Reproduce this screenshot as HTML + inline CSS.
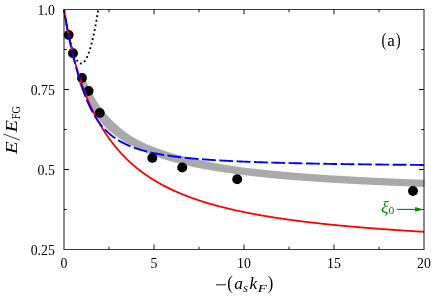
<!DOCTYPE html>
<html><head><meta charset="utf-8"><title>plot</title>
<style>
html,body{margin:0;padding:0;background:#fff;}
body{width:436px;height:298px;overflow:hidden;font-family:"Liberation Serif",serif;}
svg{display:block;will-change:transform;opacity:0.999;}
</style></head><body>
<svg width="436" height="298" viewBox="0 0 436 298">
<rect width="436" height="298" fill="#fff"/>
<defs><clipPath id="c"><rect x="60" y="9.2" width="364.5" height="240.3"/></clipPath></defs>
<g clip-path="url(#c)">
<path d="M85.47,79.26 L86.05,80.65 L86.63,82.00 L87.20,83.32 L87.77,84.61 L88.35,85.86 L88.92,87.09 L89.50,88.29 L90.07,89.46 L90.64,90.60 L91.21,91.72 L91.78,92.82 L92.36,93.89 L92.93,94.94 L93.50,95.96 L94.07,96.97 L94.64,97.95 L95.21,98.91 L95.78,99.85 L96.35,100.78 L96.92,101.68 L97.49,102.57 L98.06,103.43 L98.62,104.28 L99.19,105.12 L99.76,105.94 L100.33,106.74 L100.90,107.53 L101.47,108.30 L102.03,109.06 L102.60,109.80 L103.17,110.53 L103.73,111.25 L104.30,111.95 L104.87,112.64 L105.43,113.32 L106.00,113.99 L106.56,114.65 L107.13,115.29 L107.69,115.93 L108.26,116.55 L108.83,117.16 L109.39,117.76 L109.96,118.35 L110.52,118.93 L111.09,119.50 L111.65,120.07 L112.22,120.62 L112.78,121.17 L113.34,121.71 L113.89,122.25 L114.44,122.78 L115.00,123.31 L115.55,123.83 L116.10,124.34 L116.66,124.84 L117.21,125.33 L117.76,125.82 L118.32,126.30 L118.87,126.78 L119.42,127.25 L119.98,127.71 L120.53,128.16 L121.08,128.61 L121.64,129.06 L122.19,129.51 L122.73,129.95 L123.28,130.38 L123.83,130.81 L124.38,131.24 L124.93,131.65 L125.48,132.07 L126.03,132.48 L126.58,132.88 L127.13,133.28 L127.68,133.68 L128.23,134.07 L128.78,134.45 L129.33,134.83 L129.89,135.21 L130.44,135.58 L130.99,135.95 L131.56,136.29 L132.12,136.63 L132.69,136.97 L133.25,137.30 L133.82,137.63 L134.38,137.95 L134.95,138.27 L135.51,138.59 L136.08,138.90 L136.64,139.21 L137.21,139.52 L137.78,139.82 L138.34,140.12 L138.91,140.41 L139.47,140.71 L140.04,140.99 L140.61,141.28 L141.17,141.56 L141.74,141.84 L142.31,142.11 L142.88,142.38 L143.45,142.64 L144.02,142.90 L144.59,143.16 L145.16,143.42 L145.73,143.67 L146.30,143.92 L146.87,144.17 L147.44,144.41 L148.01,144.65 L148.58,144.89 L149.15,145.13 L149.72,145.36 L150.29,145.60 L150.86,145.82 L151.43,146.05 L152.00,146.28 L152.58,146.50 L153.15,146.72 L153.72,146.94 L154.29,147.15 L154.86,147.36 L155.43,147.58 L156.00,147.78 L156.57,147.99 L157.14,148.21 L157.71,148.42 L158.28,148.63 L158.84,148.84 L159.41,149.05 L159.98,149.25 L160.55,149.46 L161.12,149.66 L161.68,149.86 L162.25,150.06 L162.82,150.26 L163.39,150.45 L163.96,150.64 L164.53,150.83 L165.10,151.02 L165.67,151.21 L166.24,151.40 L166.80,151.58 L167.37,151.77 L167.94,151.95 L168.51,152.13 L169.08,152.30 L169.65,152.48 L170.22,152.66 L170.79,152.83 L171.36,153.00 L171.93,153.17 L172.51,153.34 L173.08,153.51 L173.65,153.68 L174.22,153.84 L174.79,154.01 L175.36,154.17 L175.93,154.33 L176.50,154.49 L177.07,154.65 L177.64,154.81 L178.22,154.96 L178.79,155.12 L179.36,155.27 L179.93,155.42 L180.50,155.57 L181.07,155.72 L181.65,155.87 L182.22,156.02 L182.79,156.16 L183.36,156.31 L183.94,156.45 L184.51,156.60 L185.08,156.74 L185.65,156.88 L186.23,157.02 L186.80,157.16 L187.37,157.30 L187.94,157.43 L188.52,157.57 L189.09,157.70 L189.66,157.84 L190.24,157.97 L190.81,158.10 L191.38,158.23 L191.96,158.36 L192.53,158.49 L193.10,158.62 L193.68,158.74 L194.25,158.87 L194.82,158.99 L195.40,159.12 L195.97,159.24 L196.54,159.37 L197.12,159.50 L197.69,159.62 L198.26,159.75 L198.84,159.87 L199.41,160.00 L199.98,160.12 L200.55,160.24 L201.13,160.36 L201.70,160.48 L202.27,160.60 L202.85,160.72 L203.42,160.84 L204.00,160.96 L204.57,161.07 L205.14,161.19 L205.72,161.30 L206.29,161.42 L206.86,161.53 L207.44,161.64 L208.01,161.76 L208.59,161.87 L209.16,161.98 L209.73,162.09 L210.31,162.20 L210.88,162.31 L211.46,162.41 L212.03,162.52 L212.61,162.63 L213.18,162.73 L213.76,162.84 L214.33,162.94 L214.90,163.05 L215.48,163.15 L216.05,163.25 L216.63,163.36 L217.20,163.46 L217.78,163.56 L218.35,163.66 L218.93,163.76 L219.50,163.86 L220.08,163.96 L220.65,164.05 L221.23,164.15 L221.81,164.25 L222.38,164.35 L222.96,164.44 L223.53,164.54 L224.11,164.63 L224.68,164.72 L225.26,164.82 L225.83,164.91 L226.41,165.00 L226.98,165.10 L227.56,165.19 L228.14,165.28 L228.71,165.37 L229.29,165.46 L229.86,165.55 L230.44,165.64 L231.02,165.73 L231.59,165.81 L232.17,165.90 L232.74,165.99 L233.32,166.07 L233.90,166.16 L234.47,166.25 L235.05,166.33 L235.62,166.42 L236.20,166.50 L236.78,166.58 L237.35,166.67 L237.93,166.75 L238.51,166.83 L239.08,166.91 L239.66,167.00 L240.24,167.08 L240.81,167.15 L241.39,167.23 L241.97,167.30 L242.54,167.38 L243.12,167.45 L243.70,167.52 L244.28,167.60 L244.85,167.67 L245.43,167.74 L246.01,167.81 L246.59,167.89 L247.16,167.96 L247.74,168.03 L248.32,168.10 L248.90,168.17 L249.47,168.24 L250.05,168.31 L250.63,168.37 L251.21,168.44 L251.78,168.51 L252.36,168.58 L252.94,168.64 L253.52,168.71 L254.09,168.78 L254.67,168.84 L255.25,168.91 L255.83,168.98 L256.40,169.04 L256.98,169.11 L257.56,169.17 L258.14,169.23 L258.72,169.30 L259.29,169.36 L259.87,169.42 L260.45,169.49 L261.03,169.55 L261.60,169.61 L262.18,169.67 L262.76,169.74 L263.34,169.80 L263.92,169.86 L264.49,169.92 L265.07,169.98 L265.65,170.04 L266.23,170.10 L266.81,170.16 L267.38,170.22 L267.96,170.28 L268.54,170.33 L269.12,170.39 L269.70,170.45 L270.28,170.51 L270.85,170.56 L271.43,170.62 L272.01,170.68 L272.59,170.74 L273.17,170.79 L273.74,170.85 L274.32,170.90 L274.90,170.96 L275.48,171.01 L276.06,171.07 L276.64,171.12 L277.21,171.18 L277.79,171.23 L278.37,171.29 L278.95,171.34 L279.53,171.39 L280.10,171.45 L280.68,171.50 L281.26,171.55 L281.84,171.60 L282.42,171.66 L283.00,171.71 L283.58,171.76 L284.15,171.81 L284.73,171.86 L285.31,171.91 L285.89,171.96 L286.47,172.01 L287.05,172.06 L287.62,172.11 L288.20,172.16 L288.78,172.21 L289.36,172.26 L289.94,172.31 L290.52,172.36 L291.10,172.41 L291.67,172.46 L292.25,172.51 L292.83,172.55 L293.41,172.60 L293.99,172.65 L294.57,172.70 L295.15,172.74 L295.72,172.79 L296.30,172.84 L296.88,172.88 L297.46,172.93 L298.04,172.98 L298.62,173.02 L299.20,173.07 L299.77,173.11 L300.35,173.16 L300.93,173.20 L301.51,173.25 L302.09,173.29 L302.67,173.34 L303.25,173.38 L303.83,173.43 L304.40,173.47 L304.98,173.52 L305.56,173.56 L306.14,173.60 L306.72,173.65 L307.30,173.69 L307.88,173.73 L308.46,173.77 L309.03,173.82 L309.61,173.86 L310.19,173.90 L310.77,173.94 L311.35,173.99 L311.93,174.03 L312.51,174.07 L313.09,174.11 L313.66,174.15 L314.24,174.19 L314.82,174.23 L315.40,174.27 L315.98,174.31 L316.56,174.35 L317.14,174.39 L317.72,174.43 L318.30,174.47 L318.87,174.51 L319.45,174.55 L320.03,174.59 L320.61,174.63 L321.19,174.67 L321.77,174.71 L322.35,174.75 L322.93,174.79 L323.51,174.82 L324.09,174.86 L324.66,174.90 L325.24,174.94 L325.82,174.98 L326.40,175.01 L326.98,175.05 L327.56,175.09 L328.14,175.13 L328.72,175.16 L329.30,175.20 L329.88,175.24 L330.45,175.27 L331.03,175.31 L331.61,175.35 L332.19,175.38 L332.77,175.42 L333.35,175.45 L333.93,175.49 L334.51,175.53 L335.09,175.56 L335.67,175.60 L336.24,175.63 L336.82,175.67 L337.40,175.70 L337.98,175.74 L338.56,175.77 L339.14,175.81 L339.72,175.84 L340.30,175.87 L340.88,175.91 L341.46,175.94 L342.04,175.98 L342.62,176.01 L343.19,176.04 L343.77,176.08 L344.35,176.11 L344.93,176.14 L345.51,176.18 L346.09,176.21 L346.67,176.24 L347.25,176.28 L347.83,176.31 L348.41,176.34 L348.99,176.37 L349.57,176.41 L350.14,176.44 L350.72,176.47 L351.30,176.50 L351.88,176.53 L352.46,176.57 L353.04,176.60 L353.62,176.63 L354.20,176.66 L354.78,176.69 L355.36,176.72 L355.94,176.75 L356.52,176.78 L357.10,176.82 L357.67,176.85 L358.25,176.88 L358.83,176.91 L359.41,176.94 L359.99,176.97 L360.57,177.00 L361.15,177.03 L361.73,177.06 L362.31,177.09 L362.89,177.12 L363.47,177.15 L364.05,177.18 L364.63,177.21 L365.20,177.24 L365.78,177.26 L366.36,177.29 L366.94,177.32 L367.52,177.35 L368.10,177.38 L368.68,177.41 L369.26,177.44 L369.84,177.47 L370.42,177.50 L371.00,177.52 L371.58,177.55 L372.16,177.58 L372.74,177.61 L373.32,177.64 L373.89,177.66 L374.47,177.69 L375.05,177.72 L375.63,177.75 L376.21,177.77 L376.79,177.80 L377.37,177.83 L377.95,177.86 L378.53,177.88 L379.11,177.91 L379.69,177.94 L380.27,177.96 L380.85,177.99 L381.43,178.02 L382.01,178.04 L382.59,178.07 L383.16,178.10 L383.74,178.12 L384.32,178.15 L384.90,178.18 L385.48,178.20 L386.06,178.23 L386.64,178.25 L387.22,178.28 L387.80,178.31 L388.38,178.33 L388.96,178.36 L389.54,178.38 L390.12,178.41 L390.70,178.43 L391.28,178.46 L391.86,178.48 L392.44,178.51 L393.02,178.53 L393.59,178.56 L394.17,178.58 L394.75,178.61 L395.33,178.63 L395.91,178.66 L396.49,178.68 L397.07,178.71 L397.65,178.73 L398.23,178.75 L398.81,178.78 L399.39,178.80 L399.97,178.83 L400.55,178.85 L401.13,178.87 L401.71,178.90 L402.29,178.92 L402.87,178.95 L403.45,178.97 L404.03,178.99 L404.60,179.02 L405.18,179.04 L405.76,179.06 L406.34,179.09 L406.92,179.11 L407.50,179.13 L408.08,179.16 L408.66,179.18 L409.24,179.20 L409.82,179.22 L410.40,179.25 L410.98,179.27 L411.56,179.29 L412.14,179.32 L412.72,179.34 L413.30,179.36 L413.88,179.38 L414.46,179.41 L415.04,179.43 L415.62,179.45 L416.19,179.47 L416.77,179.49 L417.35,179.52 L417.93,179.54 L418.51,179.56 L419.09,179.58 L419.67,179.60 L420.25,179.62 L420.83,179.65 L421.41,179.67 L421.99,179.69 L422.57,179.71 L423.15,179.73 L423.73,179.75 L424.31,179.77 L424.89,179.79 L425.47,179.82 L426.05,179.84 L426.63,179.86 L427.21,179.88 L427.79,179.90 L428.37,179.92 L428.95,179.94 L429.53,179.96 L429.27,187.15 L428.69,187.13 L428.11,187.11 L427.53,187.09 L426.95,187.07 L426.37,187.05 L425.79,187.03 L425.21,187.01 L424.63,186.99 L424.05,186.97 L423.47,186.95 L422.89,186.93 L422.31,186.91 L421.73,186.89 L421.15,186.87 L420.57,186.85 L419.99,186.83 L419.41,186.81 L418.83,186.78 L418.25,186.76 L417.67,186.74 L417.09,186.72 L416.51,186.70 L415.93,186.68 L415.35,186.66 L414.77,186.64 L414.19,186.62 L413.60,186.59 L413.02,186.57 L412.44,186.55 L411.86,186.53 L411.28,186.51 L410.70,186.49 L410.12,186.46 L409.54,186.44 L408.96,186.42 L408.38,186.40 L407.80,186.38 L407.22,186.35 L406.64,186.33 L406.06,186.31 L405.48,186.29 L404.90,186.27 L404.32,186.24 L403.74,186.22 L403.16,186.20 L402.58,186.18 L402.00,186.15 L401.42,186.13 L400.84,186.11 L400.26,186.08 L399.67,186.06 L399.09,186.04 L398.51,186.01 L397.93,185.99 L397.35,185.97 L396.77,185.94 L396.19,185.92 L395.61,185.90 L395.03,185.87 L394.45,185.85 L393.87,185.83 L393.29,185.80 L392.71,185.78 L392.13,185.75 L391.55,185.73 L390.97,185.70 L390.39,185.68 L389.81,185.66 L389.23,185.63 L388.65,185.61 L388.07,185.58 L387.48,185.56 L386.90,185.53 L386.32,185.51 L385.74,185.48 L385.16,185.46 L384.58,185.43 L384.00,185.41 L383.42,185.38 L382.84,185.36 L382.26,185.33 L381.68,185.31 L381.10,185.28 L380.52,185.25 L379.94,185.23 L379.36,185.20 L378.78,185.18 L378.20,185.15 L377.62,185.12 L377.03,185.10 L376.45,185.07 L375.87,185.04 L375.29,185.02 L374.71,184.99 L374.13,184.96 L373.55,184.94 L372.97,184.91 L372.39,184.88 L371.81,184.86 L371.23,184.83 L370.65,184.80 L370.07,184.77 L369.49,184.75 L368.91,184.72 L368.33,184.69 L367.75,184.66 L367.16,184.64 L366.58,184.61 L366.00,184.58 L365.42,184.55 L364.84,184.52 L364.26,184.49 L363.68,184.47 L363.10,184.44 L362.52,184.41 L361.94,184.38 L361.36,184.35 L360.78,184.32 L360.20,184.29 L359.62,184.26 L359.04,184.23 L358.46,184.20 L357.87,184.17 L357.29,184.14 L356.71,184.11 L356.13,184.08 L355.55,184.05 L354.97,184.02 L354.39,183.99 L353.81,183.96 L353.23,183.93 L352.65,183.90 L352.07,183.87 L351.49,183.84 L350.91,183.81 L350.33,183.78 L349.74,183.75 L349.16,183.72 L348.58,183.68 L348.00,183.65 L347.42,183.62 L346.84,183.59 L346.26,183.56 L345.68,183.53 L345.10,183.49 L344.52,183.46 L343.94,183.43 L343.36,183.40 L342.78,183.36 L342.19,183.33 L341.61,183.30 L341.03,183.27 L340.45,183.23 L339.87,183.20 L339.29,183.17 L338.71,183.13 L338.13,183.10 L337.55,183.06 L336.97,183.03 L336.39,183.00 L335.81,182.96 L335.23,182.93 L334.64,182.89 L334.06,182.86 L333.48,182.82 L332.90,182.79 L332.32,182.75 L331.74,182.72 L331.16,182.68 L330.58,182.65 L330.00,182.61 L329.42,182.58 L328.84,182.54 L328.25,182.50 L327.67,182.47 L327.09,182.43 L326.51,182.40 L325.93,182.36 L325.35,182.32 L324.77,182.28 L324.19,182.25 L323.61,182.21 L323.03,182.17 L322.45,182.14 L321.86,182.10 L321.28,182.06 L320.70,182.02 L320.12,181.98 L319.54,181.95 L318.96,181.91 L318.38,181.87 L317.80,181.83 L317.22,181.79 L316.64,181.75 L316.05,181.71 L315.47,181.67 L314.89,181.63 L314.31,181.59 L313.73,181.55 L313.15,181.51 L312.57,181.47 L311.99,181.43 L311.41,181.39 L310.82,181.35 L310.24,181.31 L309.66,181.27 L309.08,181.23 L308.50,181.19 L307.92,181.14 L307.34,181.10 L306.76,181.06 L306.18,181.02 L305.59,180.97 L305.01,180.93 L304.43,180.89 L303.85,180.85 L303.27,180.80 L302.69,180.76 L302.11,180.72 L301.53,180.67 L300.94,180.63 L300.36,180.58 L299.78,180.54 L299.20,180.50 L298.62,180.45 L298.04,180.41 L297.46,180.36 L296.88,180.31 L296.29,180.27 L295.71,180.22 L295.13,180.18 L294.55,180.13 L293.97,180.08 L293.39,180.04 L292.81,179.99 L292.22,179.94 L291.64,179.90 L291.06,179.85 L290.48,179.80 L289.90,179.75 L289.32,179.71 L288.74,179.66 L288.16,179.61 L287.57,179.56 L286.99,179.51 L286.41,179.46 L285.83,179.41 L285.25,179.36 L284.67,179.31 L284.08,179.26 L283.50,179.21 L282.92,179.16 L282.34,179.11 L281.76,179.06 L281.18,179.01 L280.60,178.96 L280.01,178.90 L279.43,178.85 L278.85,178.80 L278.27,178.75 L277.69,178.69 L277.11,178.64 L276.52,178.59 L275.94,178.53 L275.36,178.48 L274.78,178.42 L274.20,178.37 L273.62,178.31 L273.03,178.26 L272.45,178.20 L271.87,178.15 L271.29,178.09 L270.71,178.04 L270.13,177.98 L269.54,177.92 L268.96,177.87 L268.38,177.81 L267.80,177.75 L267.22,177.69 L266.63,177.63 L266.05,177.58 L265.47,177.52 L264.89,177.46 L264.31,177.40 L263.72,177.34 L263.14,177.28 L262.56,177.22 L261.98,177.16 L261.40,177.10 L260.81,177.04 L260.23,176.97 L259.65,176.91 L259.07,176.85 L258.49,176.79 L257.90,176.72 L257.32,176.66 L256.74,176.60 L256.16,176.53 L255.58,176.47 L254.99,176.40 L254.41,176.34 L253.83,176.27 L253.25,176.21 L252.66,176.14 L252.08,176.08 L251.50,176.01 L250.92,175.94 L250.34,175.87 L249.75,175.81 L249.17,175.74 L248.59,175.67 L248.01,175.60 L247.42,175.53 L246.84,175.46 L246.26,175.39 L245.68,175.32 L245.09,175.25 L244.51,175.18 L243.93,175.11 L243.35,175.03 L242.76,174.96 L242.18,174.89 L241.60,174.81 L241.02,174.74 L240.43,174.67 L239.85,174.59 L239.27,174.52 L238.68,174.44 L238.10,174.37 L237.52,174.29 L236.93,174.22 L236.35,174.14 L235.77,174.07 L235.19,173.99 L234.60,173.91 L234.02,173.83 L233.44,173.76 L232.85,173.68 L232.27,173.60 L231.69,173.52 L231.10,173.44 L230.52,173.36 L229.94,173.28 L229.35,173.19 L228.77,173.11 L228.19,173.03 L227.60,172.95 L227.02,172.86 L226.44,172.78 L225.85,172.69 L225.27,172.61 L224.68,172.52 L224.10,172.44 L223.52,172.35 L222.93,172.26 L222.35,172.17 L221.77,172.08 L221.18,171.99 L220.60,171.91 L220.01,171.81 L219.43,171.72 L218.85,171.63 L218.26,171.54 L217.68,171.45 L217.09,171.35 L216.51,171.26 L215.93,171.17 L215.34,171.07 L214.76,170.97 L214.17,170.88 L213.59,170.78 L213.00,170.68 L212.42,170.58 L211.84,170.48 L211.25,170.38 L210.67,170.28 L210.08,170.18 L209.50,170.08 L208.91,169.98 L208.33,169.88 L207.74,169.77 L207.16,169.67 L206.57,169.56 L205.99,169.45 L205.40,169.35 L204.82,169.24 L204.23,169.13 L203.65,169.02 L203.06,168.91 L202.48,168.80 L201.89,168.69 L201.31,168.58 L200.72,168.46 L200.14,168.35 L199.55,168.23 L198.96,168.12 L198.38,168.00 L197.79,167.88 L197.21,167.77 L196.62,167.65 L196.04,167.53 L195.45,167.41 L194.86,167.28 L194.28,167.16 L193.69,167.04 L193.11,166.91 L192.52,166.79 L191.93,166.66 L191.35,166.53 L190.76,166.40 L190.17,166.27 L189.59,166.14 L189.00,166.01 L188.41,165.88 L187.83,165.74 L187.24,165.61 L186.65,165.47 L186.07,165.34 L185.48,165.20 L184.89,165.06 L184.31,164.92 L183.72,164.78 L183.13,164.63 L182.54,164.49 L181.96,164.34 L181.37,164.20 L180.78,164.05 L180.19,163.90 L179.61,163.75 L179.02,163.60 L178.43,163.45 L177.84,163.30 L177.25,163.14 L176.67,162.98 L176.08,162.83 L175.49,162.67 L174.90,162.51 L174.31,162.35 L173.72,162.18 L173.14,162.02 L172.55,161.85 L171.96,161.69 L171.37,161.52 L170.78,161.35 L170.19,161.18 L169.60,161.00 L169.01,160.83 L168.42,160.65 L167.83,160.47 L167.24,160.29 L166.65,160.11 L166.06,159.93 L165.47,159.75 L164.88,159.56 L164.29,159.37 L163.70,159.18 L163.11,158.99 L162.52,158.80 L161.93,158.60 L161.34,158.40 L160.75,158.21 L160.16,158.01 L159.56,157.80 L158.97,157.60 L158.38,157.39 L157.79,157.18 L157.20,156.97 L156.61,156.76 L156.02,156.54 L155.43,156.32 L154.83,156.10 L154.24,155.88 L153.65,155.65 L153.06,155.43 L152.47,155.20 L151.87,154.96 L151.28,154.73 L150.69,154.49 L150.09,154.26 L149.50,154.01 L148.91,153.77 L148.32,153.52 L147.72,153.28 L147.13,153.02 L146.53,152.77 L145.94,152.51 L145.35,152.25 L144.75,151.99 L144.16,151.73 L143.56,151.46 L142.97,151.19 L142.38,150.91 L141.78,150.64 L141.19,150.36 L140.59,150.07 L139.99,149.79 L139.40,149.50 L138.80,149.20 L138.21,148.91 L137.60,148.63 L137.00,148.34 L136.39,148.05 L135.78,147.76 L135.18,147.47 L134.57,147.17 L133.96,146.87 L133.36,146.56 L132.75,146.25 L132.14,145.93 L131.53,145.61 L130.92,145.29 L130.31,144.96 L129.70,144.63 L129.09,144.30 L128.48,143.95 L127.87,143.61 L127.26,143.26 L126.65,142.90 L126.03,142.55 L125.42,142.19 L124.80,141.82 L124.18,141.45 L123.57,141.08 L122.95,140.69 L122.33,140.31 L121.72,139.91 L121.10,139.52 L120.48,139.11 L119.86,138.70 L119.24,138.29 L118.62,137.86 L118.00,137.43 L117.38,137.00 L116.76,136.56 L116.14,136.11 L115.51,135.66 L114.89,135.20 L114.26,134.74 L113.63,134.26 L113.01,133.79 L112.38,133.30 L111.75,132.80 L111.12,132.30 L110.49,131.79 L109.86,131.27 L109.23,130.74 L108.60,130.21 L107.97,129.66 L107.34,129.11 L106.71,128.54 L106.09,127.96 L105.51,127.32 L104.93,126.68 L104.35,126.03 L103.77,125.37 L103.19,124.70 L102.61,124.02 L102.04,123.32 L101.46,122.62 L100.89,121.91 L100.32,121.18 L99.75,120.44 L99.18,119.69 L98.61,118.93 L98.04,118.16 L97.47,117.37 L96.91,116.57 L96.34,115.76 L95.78,114.94 L95.21,114.10 L94.65,113.25 L94.09,112.38 L93.52,111.50 L92.96,110.61 L92.40,109.70 L91.84,108.77 L91.28,107.83 L90.72,106.87 L90.16,105.90 L89.61,104.90 L89.02,103.91 L88.43,102.90 L87.85,101.86 L87.26,100.81 L86.68,99.74 L86.09,98.64 L85.51,97.52 L84.92,96.38 L84.34,95.22 L83.76,94.03 L83.17,92.82 L82.59,91.58 L82.01,90.31 L81.43,89.01 L80.85,87.69 L80.26,86.34 L79.68,84.95 L79.10,83.54 L78.53,82.10Z" fill="#aaaaaa"/>
<path d="M64.00,9.50 L64.18,10.60 L64.35,11.70 L64.53,12.78 L64.71,13.84 L64.88,14.90 L65.06,15.95 L65.23,16.98 L65.41,18.01 L65.59,19.02 L65.76,20.02 L65.94,21.01 L66.12,21.99 L66.29,22.95 L66.47,23.91 L66.65,24.85 L66.82,25.79 L67.00,26.71 L67.17,27.62 L67.35,28.51 L67.53,29.40 L67.70,30.28 L67.88,31.14 L68.06,31.99 L68.23,32.83 L68.41,33.66 L68.59,34.48 L68.76,35.29 L68.94,36.08 L69.12,36.87 L69.29,37.64 L69.47,38.40 L69.64,39.15 L69.82,39.89 L70.00,40.62 L70.17,41.33 L70.35,42.04 L70.53,42.73 L70.70,43.41 L70.88,44.08 L71.06,44.74 L71.23,45.39 L71.41,46.02 L71.58,46.65 L71.76,47.26 L71.94,47.86 L72.11,48.45 L72.29,49.03 L72.47,49.60 L72.64,50.15 L72.82,50.70 L73.00,51.23 L73.17,51.75 L73.35,52.27 L73.52,52.76 L73.70,53.25 L73.88,53.73 L74.05,54.19 L74.23,54.65 L74.41,55.09 L74.58,55.52 L74.76,55.94 L74.94,56.35 L75.11,56.74 L75.29,57.13 L75.46,57.50 L75.64,57.86 L75.82,58.21 L75.99,58.55 L76.17,58.88 L76.35,59.20 L76.52,59.50 L76.70,59.80 L76.88,60.08 L77.05,60.35 L77.23,60.61 L77.41,60.86 L77.58,61.10 L77.76,61.32 L77.93,61.54 L78.11,61.74 L78.29,61.93 L78.46,62.11 L78.64,62.28 L78.82,62.43 L78.99,62.58 L79.17,62.71 L79.35,62.84 L79.52,62.95 L79.70,63.05 L79.87,63.14 L80.05,63.21 L80.23,63.28 L80.40,63.33 L80.58,63.38 L80.76,63.41 L80.93,63.43 L81.11,63.44 L81.29,63.44 L81.46,63.42 L81.64,63.40 L81.81,63.36 L81.99,63.31 L82.17,63.25 L82.34,63.18 L82.52,63.10 L82.70,63.00 L82.87,62.90 L83.05,62.78 L83.23,62.65 L83.40,62.51 L83.58,62.36 L83.75,62.20 L83.93,62.03 L84.11,61.84 L84.28,61.65 L84.46,61.44 L84.64,61.22 L84.81,60.99 L84.99,60.75 L85.17,60.49 L85.34,60.23 L85.52,59.95 L85.69,59.66 L85.87,59.37 L86.05,59.06 L86.22,58.73 L86.40,58.40 L86.58,58.06 L86.75,57.70 L86.93,57.33 L87.11,56.95 L87.28,56.56 L87.46,56.16 L87.64,55.75 L87.81,55.32 L87.99,54.89 L88.16,54.44 L88.34,53.98 L88.52,53.51 L88.69,53.03 L88.87,52.54 L89.05,52.03 L89.22,51.52 L89.40,50.99 L89.58,50.45 L89.75,49.90 L89.93,49.34 L90.10,48.77 L90.28,48.18 L90.46,47.59 L90.63,46.98 L90.81,46.36 L90.99,45.73 L91.16,45.09 L91.34,44.44 L91.52,43.78 L91.69,43.10 L91.87,42.41 L92.04,41.72 L92.22,41.01 L92.40,40.29 L92.57,39.55 L92.75,38.81 L92.93,38.05 L93.10,37.29 L93.28,36.51 L93.46,35.72 L93.63,34.92 L93.81,34.11 L93.98,33.28 L94.16,32.45 L94.34,31.60 L94.51,30.75 L94.69,29.88 L94.87,29.00 L95.04,28.10 L95.22,27.20 L95.40,26.29 L95.57,25.36 L95.75,24.42 L95.93,23.47 L96.10,22.51 L96.28,21.54 L96.45,20.56 L96.63,19.56 L96.81,18.56 L96.98,17.54 L97.16,16.51 L97.34,15.47 L97.51,14.42 L97.69,13.36 L97.87,12.28 L98.04,11.20 L98.22,10.10" fill="none" stroke="#000" stroke-width="1.9" stroke-dasharray="1.8 2.89" stroke-dashoffset="4.05"/>
<circle cx="68.7" cy="35.0" r="4.95" fill="#000"/>
<circle cx="73.0" cy="53.3" r="4.95" fill="#000"/>
<circle cx="82.0" cy="77.9" r="4.95" fill="#000"/>
<circle cx="88.6" cy="91.0" r="4.95" fill="#000"/>
<circle cx="99.8" cy="112.9" r="4.95" fill="#000"/>
<circle cx="152.3" cy="157.9" r="4.95" fill="#000"/>
<circle cx="182.2" cy="167.5" r="4.95" fill="#000"/>
<circle cx="237.2" cy="179.3" r="4.95" fill="#000"/>
<circle cx="413.0" cy="191.0" r="4.95" fill="#000"/>
<path d="M64.00,9.50 L64.27,11.19 L64.54,12.86 L64.81,14.50 L65.09,16.12 L65.36,17.71 L65.63,19.28 L65.90,20.82 L66.17,22.34 L66.44,23.84 L66.71,25.32 L66.98,26.78 L67.26,28.22 L67.53,29.63 L67.80,31.03 L68.07,32.41 L68.34,33.77 L68.61,35.11 L68.88,36.43 L69.16,37.74 L69.43,39.02 L69.70,40.30 L69.97,41.55 L70.24,42.79 L70.51,44.01 L70.78,45.22 L71.06,46.41 L71.33,47.59 L71.60,48.75 L71.87,49.90 L72.14,51.04 L72.41,52.16 L72.68,53.27 L72.95,54.36 L73.23,55.45 L73.50,56.52 L73.77,57.57 L74.04,58.62 L74.31,59.65 L74.58,60.67 L74.85,61.68 L75.13,62.68 L75.40,63.67 L75.67,64.65 L75.94,65.61 L76.21,66.57 L76.48,67.52 L76.75,68.45 L77.03,69.38 L77.30,70.30 L77.57,71.20 L77.84,72.10 L78.11,72.99 L78.38,73.87 L78.65,74.74 L78.92,75.60 L79.20,76.45 L79.47,77.30 L79.74,78.13 L80.01,78.96 L80.28,79.78 L80.55,80.60 L80.82,81.40 L81.10,82.20 L81.37,82.99 L81.64,83.77 L81.91,84.55 L82.18,85.31 L82.45,86.08 L82.72,86.83 L82.99,87.58 L83.27,88.32 L83.54,89.05 L83.81,89.78 L84.08,90.50 L84.35,91.22 L84.62,91.92 L84.89,92.63 L85.17,93.32 L85.44,94.02 L85.71,94.70 L85.98,95.38 L86.25,96.05 L86.52,96.72 L86.79,97.39 L87.07,98.04 L87.34,98.70 L87.61,99.34 L87.88,99.98 L88.15,100.62 L88.42,101.25 L88.69,101.88 L88.96,102.50 L89.24,103.12 L89.51,103.73 L89.78,104.34 L90.05,104.94 L90.32,105.54 L90.59,106.14 L90.86,106.73 L91.14,107.31 L91.41,107.89 L91.68,108.47 L91.95,109.04 L92.22,109.61 L92.49,110.18 L92.76,110.74 L93.04,111.29 L93.31,111.85 L93.58,112.39 L93.85,112.94 L94.12,113.48 L94.39,114.02 L94.66,114.55 L94.93,115.08 L95.21,115.61 L95.48,116.13 L95.75,116.65 L96.02,117.16 L96.29,117.67 L96.56,118.18 L96.83,118.69 L97.11,119.19 L97.38,119.69 L97.65,120.18 L97.92,120.67 L98.19,121.16 L98.46,121.65 L98.73,122.13 L99.01,122.61 L99.28,123.09 L99.55,123.56 L99.82,124.03 L100.09,124.49 L100.36,124.96 L100.63,125.42 L100.90,125.88 L101.18,126.33 L101.45,126.78 L101.72,127.23 L101.99,127.68 L102.26,128.12 L102.53,128.56 L102.80,129.00 L103.08,129.44 L103.35,129.87 L103.62,130.30 L103.89,130.73 L104.16,131.15 L104.43,131.57 L104.70,131.99 L104.97,132.41 L105.25,132.82 L105.52,133.24 L105.79,133.64 L106.06,134.05 L106.33,134.46 L106.60,134.86 L106.87,135.26 L107.15,135.65 L107.42,136.05 L107.69,136.44 L107.96,136.83 L108.23,137.22 L108.50,137.61 L108.77,137.99 L109.05,138.37 L109.32,138.75 L109.59,139.12 L109.86,139.50 L110.13,139.87 L110.40,140.24 L110.67,140.61 L110.94,140.97 L111.22,141.34 L111.49,141.70 L111.76,142.06 L112.03,142.42 L112.30,142.77 L112.57,143.13 L112.84,143.48 L113.12,143.83 L113.39,144.17 L113.66,144.52 L113.93,144.86 L114.20,145.20 L114.47,145.54 L114.74,145.88 L115.02,146.22 L115.29,146.55 L115.56,146.88 L115.83,147.21 L116.10,147.54 L116.37,147.87 L116.64,148.19 L116.91,148.51 L117.19,148.83 L117.46,149.15 L117.73,149.47 L118.00,149.79 L119.02,150.96 L120.05,152.11 L121.07,153.24 L122.09,154.34 L123.12,155.43 L124.14,156.49 L125.16,157.53 L126.19,158.55 L127.21,159.55 L128.23,160.53 L129.26,161.50 L130.28,162.44 L131.30,163.37 L132.33,164.28 L133.35,165.17 L134.37,166.04 L135.40,166.90 L136.42,167.75 L137.44,168.58 L138.47,169.39 L139.49,170.19 L140.52,170.98 L141.54,171.75 L142.56,172.51 L143.59,173.25 L144.61,173.98 L145.63,174.70 L146.66,175.41 L147.68,176.11 L148.70,176.79 L149.73,177.46 L150.75,178.12 L151.77,178.77 L152.80,179.41 L153.82,180.04 L154.84,180.67 L155.87,181.28 L156.89,181.88 L157.91,182.47 L158.94,183.06 L159.96,183.63 L160.98,184.20 L162.01,184.75 L163.03,185.30 L164.05,185.84 L165.08,186.38 L166.10,186.90 L167.12,187.42 L168.15,187.93 L169.17,188.43 L170.19,188.92 L171.22,189.41 L172.24,189.89 L173.26,190.36 L174.29,190.83 L175.31,191.29 L176.33,191.74 L177.36,192.19 L178.38,192.63 L179.40,193.07 L180.43,193.50 L181.45,193.92 L182.47,194.34 L183.50,194.75 L184.52,195.16 L185.55,195.56 L186.57,195.96 L187.59,196.35 L188.62,196.73 L189.64,197.11 L190.66,197.49 L191.69,197.86 L192.71,198.23 L193.73,198.59 L194.76,198.95 L195.78,199.30 L196.80,199.65 L197.83,200.00 L198.85,200.34 L199.87,200.67 L200.90,201.00 L201.92,201.33 L202.94,201.66 L203.97,201.98 L204.99,202.29 L206.01,202.61 L207.04,202.92 L208.06,203.22 L209.08,203.52 L210.11,203.82 L211.13,204.12 L212.15,204.41 L213.18,204.70 L214.20,204.99 L215.22,205.27 L216.25,205.55 L217.27,205.82 L218.29,206.10 L219.32,206.37 L220.34,206.63 L221.36,206.90 L222.39,207.16 L223.41,207.42 L224.43,207.67 L225.46,207.93 L226.48,208.18 L227.51,208.42 L228.53,208.67 L229.55,208.91 L230.58,209.15 L231.60,209.39 L232.62,209.63 L233.65,209.86 L234.67,210.09 L235.69,210.32 L236.72,210.54 L237.74,210.77 L238.76,210.99 L239.79,211.21 L240.81,211.43 L241.83,211.64 L242.86,211.85 L243.88,212.06 L244.90,212.27 L245.93,212.48 L246.95,212.69 L247.97,212.89 L249.00,213.09 L250.02,213.29 L251.04,213.49 L252.07,213.68 L253.09,213.87 L254.11,214.07 L255.14,214.26 L256.16,214.45 L257.18,214.63 L258.21,214.82 L259.23,215.00 L260.25,215.18 L261.28,215.36 L262.30,215.54 L263.32,215.72 L264.35,215.89 L265.37,216.07 L266.39,216.24 L267.42,216.41 L268.44,216.58 L269.46,216.75 L270.49,216.91 L271.51,217.08 L272.54,217.24 L273.56,217.40 L274.58,217.56 L275.61,217.72 L276.63,217.88 L277.65,218.04 L278.68,218.19 L279.70,218.35 L280.72,218.50 L281.75,218.65 L282.77,218.80 L283.79,218.94 L284.82,219.09 L285.84,219.24 L286.86,219.38 L287.89,219.52 L288.91,219.66 L289.93,219.80 L290.96,219.94 L291.98,220.08 L293.00,220.22 L294.03,220.35 L295.05,220.49 L296.07,220.62 L297.10,220.76 L298.12,220.89 L299.14,221.02 L300.17,221.15 L301.19,221.28 L302.21,221.40 L303.24,221.53 L304.26,221.66 L305.28,221.78 L306.31,221.91 L307.33,222.03 L308.35,222.15 L309.38,222.27 L310.40,222.39 L311.42,222.51 L312.45,222.63 L313.47,222.75 L314.49,222.86 L315.52,222.98 L316.54,223.09 L317.57,223.21 L318.59,223.32 L319.61,223.44 L320.64,223.55 L321.66,223.66 L322.68,223.77 L323.71,223.88 L324.73,223.99 L325.75,224.09 L326.78,224.20 L327.80,224.31 L328.82,224.41 L329.85,224.52 L330.87,224.62 L331.89,224.73 L332.92,224.83 L333.94,224.93 L334.96,225.03 L335.99,225.13 L337.01,225.23 L338.03,225.33 L339.06,225.43 L340.08,225.53 L341.10,225.63 L342.13,225.72 L343.15,225.82 L344.17,225.91 L345.20,226.01 L346.22,226.10 L347.24,226.19 L348.27,226.29 L349.29,226.38 L350.31,226.47 L351.34,226.56 L352.36,226.65 L353.38,226.74 L354.41,226.83 L355.43,226.92 L356.45,227.01 L357.48,227.10 L358.50,227.18 L359.53,227.27 L360.55,227.36 L361.57,227.44 L362.60,227.53 L363.62,227.61 L364.64,227.69 L365.67,227.78 L366.69,227.86 L367.71,227.94 L368.74,228.03 L369.76,228.11 L370.78,228.19 L371.81,228.27 L372.83,228.35 L373.85,228.43 L374.88,228.51 L375.90,228.58 L376.92,228.66 L377.95,228.74 L378.97,228.82 L379.99,228.89 L381.02,228.97 L382.04,229.04 L383.06,229.12 L384.09,229.19 L385.11,229.27 L386.13,229.34 L387.16,229.41 L388.18,229.49 L389.20,229.56 L390.23,229.63 L391.25,229.70 L392.27,229.77 L393.30,229.84 L394.32,229.91 L395.34,229.98 L396.37,230.05 L397.39,230.12 L398.41,230.19 L399.44,230.26 L400.46,230.33 L401.48,230.40 L402.51,230.46 L403.53,230.53 L404.56,230.60 L405.58,230.67 L406.60,230.73 L407.63,230.80 L408.65,230.86 L409.67,230.93 L410.70,230.99 L411.72,231.05 L412.74,231.12 L413.77,231.18 L414.79,231.24 L415.81,231.30 L416.84,231.37 L417.86,231.43 L418.88,231.49 L419.91,231.55 L420.93,231.62 L421.95,231.68 L422.98,231.74 L424.00,231.80" fill="none" stroke="#ff0000" stroke-width="1.8"/>
<path d="M64.00,9.51 L64.27,11.20 L64.54,12.86 L64.81,14.50 L65.09,16.11 L65.36,17.70 L65.63,19.27 L65.90,20.82 L66.17,22.34 L66.44,23.85 L66.71,25.33 L66.98,26.79 L67.26,28.24 L67.53,29.66 L67.80,31.07 L68.07,32.46 L68.34,33.83 L68.61,35.18 L68.88,36.52 L69.16,37.84 L69.43,39.15 L69.70,40.44 L69.97,41.71 L70.24,42.97 L70.51,44.21 L70.78,45.45 L71.06,46.66 L71.33,47.87 L71.60,49.06 L71.87,50.24 L72.14,51.40 L72.41,52.56 L72.68,53.70 L72.95,54.83 L73.23,55.95 L73.50,57.06 L73.77,58.16 L74.04,59.25 L74.31,60.33 L74.58,61.40 L74.85,62.46 L75.13,63.51 L75.40,64.55 L75.67,65.58 L75.94,66.60 L76.21,67.61 L76.48,68.61 L76.75,69.60 L77.03,70.58 L77.30,71.55 L77.57,72.52 L77.84,73.47 L78.11,74.42 L78.38,75.35 L78.65,76.28 L78.92,77.20 L79.20,78.11 L79.47,79.01 L79.74,79.90 L80.01,80.78 L80.28,81.65 L80.55,82.51 L80.82,83.37 L81.10,84.21 L81.37,85.04 L81.64,85.87 L81.91,86.69 L82.18,87.49 L82.45,88.29 L82.72,89.08 L82.99,89.86 L83.27,90.63 L83.54,91.39 L83.81,92.14 L84.08,92.89 L84.35,93.62 L84.62,94.35 L84.89,95.07 L85.17,95.78 L85.44,96.48 L85.71,97.17 L85.98,97.85 L86.25,98.53 L86.52,99.20 L86.79,99.86 L87.07,100.51 L87.34,101.15 L87.61,101.79 L87.88,102.42 L88.15,103.04 L88.42,103.65 L88.69,104.25 L88.96,104.85 L89.24,105.44 L89.51,106.02 L89.78,106.60 L90.05,107.16 L90.32,107.72 L90.59,108.27 L90.86,108.82 L91.14,109.36 L91.41,109.89 L91.68,110.42 L91.95,110.93 L92.22,111.44 L92.49,111.95 L92.76,112.45 L93.04,112.94 L93.31,113.43 L93.58,113.90 L93.85,114.38 L94.12,114.85 L94.39,115.31 L94.66,115.76 L94.93,116.21 L95.21,116.66 L95.48,117.09 L95.75,117.53 L96.02,117.95 L96.29,118.38 L96.56,118.79 L96.83,119.21 L97.11,119.61 L97.38,120.01 L97.65,120.41 L97.92,120.80 L98.19,121.19 L98.46,121.57 L98.73,121.95 L99.01,122.32 L99.28,122.69 L99.55,123.05 L99.82,123.41 L100.09,123.77 L100.36,124.12 L100.63,124.47 L100.90,124.81 L101.18,125.15 L101.45,125.48 L101.72,125.81 L101.99,126.13 L102.26,126.46 L102.53,126.77 L102.80,127.09 L103.08,127.40 L103.35,127.71 L103.62,128.01 L103.89,128.31 L104.16,128.61 L104.43,128.90 L104.70,129.19 L104.97,129.47 L105.25,129.76 L105.52,130.03 L105.79,130.31 L106.06,130.58 L106.33,130.85 L106.60,131.12 L106.87,131.38 L107.15,131.64 L107.42,131.90 L107.69,132.16 L107.96,132.41 L108.23,132.66 L108.50,132.90 L108.77,133.15 L109.05,133.39 L109.32,133.63 L109.59,133.86 L109.86,134.10 L110.13,134.33 L110.40,134.55 L110.67,134.78 L110.94,135.00 L111.22,135.22 L111.49,135.44 L111.76,135.65 L112.03,135.87 L112.30,136.08 L112.57,136.29 L112.84,136.49 L113.12,136.70 L113.39,136.90 L113.66,137.10 L113.93,137.30 L114.20,137.49 L114.47,137.69 L114.74,137.88 L115.02,138.07 L115.29,138.26 L115.56,138.44 L115.83,138.63 L116.10,138.81 L116.37,138.99 L116.64,139.17 L116.91,139.34 L117.19,139.52 L117.46,139.69 L117.73,139.86 L118.00,140.03 L119.02,140.66 L120.05,141.26 L121.07,141.84 L122.09,142.40 L123.12,142.94 L124.14,143.46 L125.16,143.96 L126.19,144.45 L127.21,144.91 L128.23,145.36 L129.26,145.80 L130.28,146.22 L131.30,146.63 L132.33,147.02 L133.35,147.41 L134.37,147.78 L135.40,148.14 L136.42,148.49 L137.44,148.83 L138.47,149.16 L139.49,149.48 L140.52,149.79 L141.54,150.09 L142.56,150.39 L143.59,150.67 L144.61,150.95 L145.63,151.22 L146.66,151.48 L147.68,151.73 L148.70,151.97 L149.73,152.21 L150.75,152.45 L151.77,152.67 L152.80,152.89 L153.82,153.11 L154.84,153.32 L155.87,153.52 L156.89,153.72 L157.91,153.92 L158.94,154.11 L159.96,154.29 L160.98,154.47 L162.01,154.65 L163.03,154.82 L164.05,154.99 L165.08,155.15 L166.10,155.31 L167.12,155.47 L168.15,155.62 L169.17,155.78 L170.19,155.92 L171.22,156.07 L172.24,156.21 L173.26,156.35 L174.29,156.48 L175.31,156.62 L176.33,156.75 L177.36,156.87 L178.38,157.00 L179.40,157.12 L180.43,157.24 L181.45,157.36 L182.47,157.47 L183.50,157.58 L184.52,157.69 L185.55,157.80 L186.57,157.90 L187.59,158.01 L188.62,158.11 L189.64,158.21 L190.66,158.30 L191.69,158.40 L192.71,158.49 L193.73,158.58 L194.76,158.67 L195.78,158.76 L196.80,158.85 L197.83,158.93 L198.85,159.02 L199.87,159.10 L200.90,159.18 L201.92,159.26 L202.94,159.34 L203.97,159.41 L204.99,159.49 L206.01,159.56 L207.04,159.64 L208.06,159.71 L209.08,159.78 L210.11,159.85 L211.13,159.92 L212.15,159.98 L213.18,160.05 L214.20,160.11 L215.22,160.18 L216.25,160.24 L217.27,160.30 L218.29,160.36 L219.32,160.42 L220.34,160.48 L221.36,160.54 L222.39,160.60 L223.41,160.65 L224.43,160.71 L225.46,160.76 L226.48,160.82 L227.51,160.87 L228.53,160.92 L229.55,160.97 L230.58,161.03 L231.60,161.08 L232.62,161.13 L233.65,161.17 L234.67,161.22 L235.69,161.27 L236.72,161.32 L237.74,161.36 L238.76,161.41 L239.79,161.46 L240.81,161.50 L241.83,161.54 L242.86,161.59 L243.88,161.63 L244.90,161.67 L245.93,161.71 L246.95,161.76 L247.97,161.80 L249.00,161.84 L250.02,161.88 L251.04,161.91 L252.07,161.95 L253.09,161.99 L254.11,162.03 L255.14,162.07 L256.16,162.10 L257.18,162.14 L258.21,162.17 L259.23,162.21 L260.25,162.24 L261.28,162.28 L262.30,162.31 L263.32,162.34 L264.35,162.38 L265.37,162.41 L266.39,162.44 L267.42,162.47 L268.44,162.50 L269.46,162.53 L270.49,162.57 L271.51,162.60 L272.54,162.62 L273.56,162.65 L274.58,162.68 L275.61,162.71 L276.63,162.74 L277.65,162.77 L278.68,162.80 L279.70,162.82 L280.72,162.85 L281.75,162.88 L282.77,162.90 L283.79,162.93 L284.82,162.95 L285.84,162.98 L286.86,163.00 L287.89,163.03 L288.91,163.05 L289.93,163.08 L290.96,163.10 L291.98,163.13 L293.00,163.15 L294.03,163.17 L295.05,163.20 L296.07,163.22 L297.10,163.24 L298.12,163.27 L299.14,163.29 L300.17,163.31 L301.19,163.33 L302.21,163.36 L303.24,163.38 L304.26,163.40 L305.28,163.42 L306.31,163.44 L307.33,163.46 L308.35,163.48 L309.38,163.50 L310.40,163.53 L311.42,163.55 L312.45,163.57 L313.47,163.59 L314.49,163.60 L315.52,163.62 L316.54,163.64 L317.57,163.66 L318.59,163.68 L319.61,163.70 L320.64,163.72 L321.66,163.74 L322.68,163.76 L323.71,163.77 L324.73,163.79 L325.75,163.81 L326.78,163.83 L327.80,163.84 L328.82,163.86 L329.85,163.88 L330.87,163.90 L331.89,163.91 L332.92,163.93 L333.94,163.94 L334.96,163.96 L335.99,163.98 L337.01,163.99 L338.03,164.01 L339.06,164.02 L340.08,164.04 L341.10,164.05 L342.13,164.07 L343.15,164.08 L344.17,164.10 L345.20,164.11 L346.22,164.13 L347.24,164.14 L348.27,164.16 L349.29,164.17 L350.31,164.19 L351.34,164.20 L352.36,164.21 L353.38,164.23 L354.41,164.24 L355.43,164.25 L356.45,164.27 L357.48,164.28 L358.50,164.29 L359.53,164.31 L360.55,164.32 L361.57,164.33 L362.60,164.35 L363.62,164.36 L364.64,164.37 L365.67,164.38 L366.69,164.40 L367.71,164.41 L368.74,164.42 L369.76,164.43 L370.78,164.45 L371.81,164.46 L372.83,164.47 L373.85,164.48 L374.88,164.49 L375.90,164.50 L376.92,164.52 L377.95,164.53 L378.97,164.54 L379.99,164.55 L381.02,164.56 L382.04,164.57 L383.06,164.58 L384.09,164.59 L385.11,164.61 L386.13,164.62 L387.16,164.63 L388.18,164.64 L389.20,164.65 L390.23,164.66 L391.25,164.67 L392.27,164.68 L393.30,164.69 L394.32,164.70 L395.34,164.71 L396.37,164.72 L397.39,164.73 L398.41,164.74 L399.44,164.75 L400.46,164.76 L401.48,164.77 L402.51,164.78 L403.53,164.79 L404.56,164.80 L405.58,164.81 L406.60,164.81 L407.63,164.82 L408.65,164.83 L409.67,164.84 L410.70,164.85 L411.72,164.86 L412.74,164.87 L413.77,164.88 L414.79,164.89 L415.81,164.89 L416.84,164.90 L417.86,164.91 L418.88,164.92 L419.91,164.93 L420.93,164.94 L421.95,164.94 L422.98,164.95 L424.00,164.96" fill="none" stroke="#0000ff" stroke-width="1.9" stroke-dasharray="13.84 3.5" stroke-dashoffset="10.69"/>
</g>
<g stroke="#000" fill="none">
<path d="M64,9.5 V249.5 M424,9.5 V249.5" stroke-width="0.92" stroke="#000"/>
<path d="M63.5,9.5 H424.5 M63.5,249.5 H424.5" stroke-width="1" stroke="#383838"/>
<path d="M109.0,249.5 v-2.7 M109.0,9.5 v2.7 M154.0,249.5 v-5 M154.0,9.5 v5 M199.0,249.5 v-2.7 M199.0,9.5 v2.7 M244.0,249.5 v-5 M244.0,9.5 v5 M289.0,249.5 v-2.7 M289.0,9.5 v2.7 M334.0,249.5 v-5 M334.0,9.5 v5 M379.0,249.5 v-2.7 M379.0,9.5 v2.7 M64,209.5 h2.7 M424,209.5 h-2.7 M64,169.5 h5 M424,169.5 h-5 M64,129.5 h2.7 M424,129.5 h-2.7 M64,89.5 h5 M424,89.5 h-5 M64,49.5 h2.7 M424,49.5 h-2.7" stroke-width="1" stroke="#111"/>
</g>
<g font-family="Liberation Serif, serif" font-size="13.8" fill="#000">
<text x="54.8" y="14.50" text-anchor="end">1.0</text>
<text x="54.8" y="94.50" text-anchor="end">0.75</text>
<text x="54.8" y="174.50" text-anchor="end">0.5</text>
<text x="54.8" y="254.50" text-anchor="end">0.25</text>
<text x="64.0" y="267.7" text-anchor="middle">0</text>
<text x="154.0" y="267.7" text-anchor="middle">5</text>
<text x="244.0" y="267.7" text-anchor="middle">10</text>
<text x="334.0" y="267.7" text-anchor="middle">15</text>
<text x="424.0" y="267.7" text-anchor="middle">20</text>
</g>
<text transform="translate(382.30,45.96) scale(0.778,1)" x="-0.90" y="0" font-family="Liberation Serif, serif" font-size="18.78" fill="#000">(</text>
<text x="387.3" y="45.8" font-family="Liberation Serif, serif" font-size="17.2" fill="#000">a</text>
<text transform="translate(396.30,45.96) scale(0.778,1)" x="-0.56" y="0" font-family="Liberation Serif, serif" font-size="18.78" fill="#000">)</text>
<g font-family="Liberation Serif, serif" fill="#000">
<path d="M216.0,284.8 H225.9" stroke="#000" stroke-width="0.9"/>
<text transform="translate(228.00,289.03) scale(0.918,1)" x="-0.86" y="0" font-family="Liberation Serif, serif" font-size="18.01" fill="#000">(</text>
<text x="234.2" y="289.4" font-size="17.3" font-style="italic">a</text>
<text x="243.3" y="291.6" font-size="12" font-style="italic">s</text>
<text x="249.6" y="289.4" font-size="17.3" font-style="italic">k</text>
<text x="257.7" y="291.5" font-size="11.2" font-style="italic" textLength="9.2" lengthAdjust="spacingAndGlyphs">F</text>
<text transform="translate(268.20,289.03) scale(0.918,1)" x="-0.54" y="0" font-family="Liberation Serif, serif" font-size="18.01" fill="#000">)</text>
</g>
<g transform="translate(16.5,154) rotate(-90)" font-family="Liberation Serif, serif" fill="#000">
<text x="0" y="0" font-size="16.8" font-style="italic" textLength="12.7" lengthAdjust="spacingAndGlyphs">E</text>
<text x="21.8" y="0" font-size="16.8" font-style="italic" textLength="12.2" lengthAdjust="spacingAndGlyphs">E</text>
<text x="34.7" y="3.6" font-size="12" textLength="13.1" lengthAdjust="spacingAndGlyphs">FG</text>
</g>
<path d="M19.9,140.1 L3.3,134.0" stroke="#111" stroke-width="0.8" fill="none"/>
<g fill="#008a00" stroke="none" font-family="Liberation Serif, serif">
<text x="380.9" y="212.6" font-size="16.2" font-style="italic" textLength="7.6" lengthAdjust="spacingAndGlyphs">ξ</text>
<text x="388.4" y="214.3" font-size="10.6" textLength="5.8" lengthAdjust="spacingAndGlyphs">0</text>
<path d="M396.9,209.4 H417" stroke="#008a00" stroke-width="1.1" fill="none"/>
<path d="M423.6,209.4 L415.2,207.1 L415.2,211.7 Z"/>
</g>
</svg>
</body></html>
